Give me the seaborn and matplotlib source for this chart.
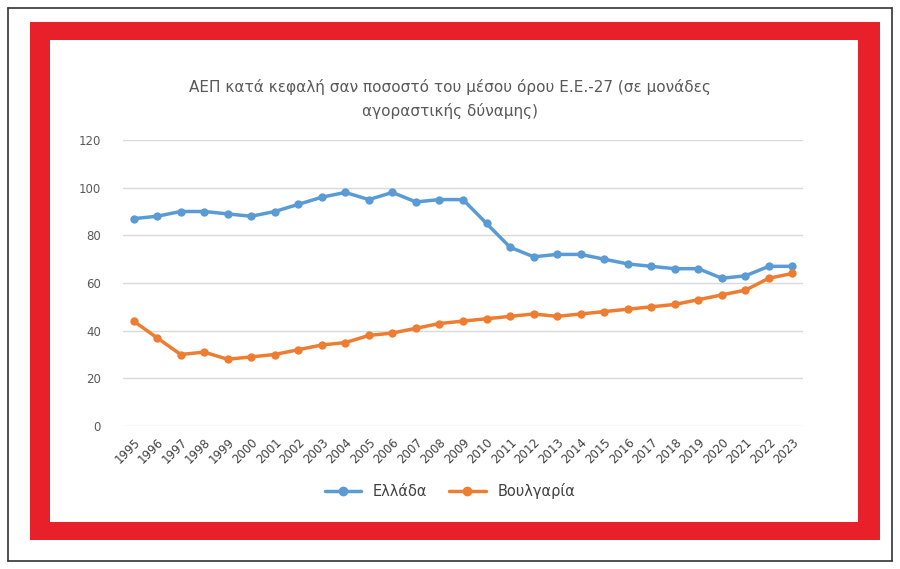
import matplotlib
matplotlib.use('Agg')
import matplotlib.pyplot as plt
import matplotlib.patches as mpatches
import seaborn as sns
import pandas as pd

years = list(range(1995, 2024))
greece = [87, 88, 90, 90, 89, 88, 90, 93, 96, 98, 95, 98, 94, 95, 95, 85, 75, 71,
          72, 72, 70, 68, 67, 66, 66, 62, 63, 67, 67]
bulgaria = [44, 37, 30, 31, 28, 29, 30, 32, 34, 35, 38, 39, 41, 43, 44, 45, 46, 47,
            46, 47, 48, 49, 50, 51, 53, 55, 57, 62, 64]
series_names = ['Ελλάδα', 'Βουλγαρία']
colors = ['#5B9BD5', '#ED7D31']

sns.set_theme(style='white')
plt.rcParams['font.family'] = ['DejaVu Sans']

W, H = 900, 569
fig = plt.figure(figsize=(9, 5.69), dpi=100)

def box(x0, y0, x1, y1, **kw):
    # pixel coords from top-left
    fig.patches.append(mpatches.Rectangle((x0 / W, 1 - y1 / H), (x1 - x0) / W, (y1 - y0) / H,
                                          transform=fig.transFigure, figure=fig, zorder=-5, **kw))

box(8, 8, 892, 561, facecolor='white', edgecolor='#333333', lw=1.2)
box(30, 22, 880, 540, facecolor='#E8202A', edgecolor='none')
box(50, 40, 858, 522, facecolor='white', edgecolor='none')
for (xa, ya, xb, yb) in [(8, 8, 30, 22), (892, 8, 880, 22), (8, 561, 30, 540), (892, 561, 880, 540)]:
    fig.lines.append(plt.Line2D([xa / W, xb / W], [1 - ya / H, 1 - yb / H],
                                transform=fig.transFigure, color='#333333', lw=1, zorder=-5))

df = pd.DataFrame({'year': [str(y) for y in years] * 2,
                   'value': greece + bulgaria,
                   'country': [series_names[0]] * len(years) + [series_names[1]] * len(years)})

ax = fig.add_axes([123 / W, 1 - 426 / H, 680 / W, 286 / H])
ax.set_facecolor('none')
sns.lineplot(data=df, x='year', y='value', hue='country', palette=colors, marker='o',
             markersize=6, markeredgewidth=0, linewidth=2.5, sort=False, ax=ax, legend=False)
ax.set_xlim(-0.45, len(years) - 0.55)
ax.set_ylim(0, 120)
ax.set_yticks(range(0, 121, 20))
ax.grid(axis='y', color='#D9D9D9', lw=1)
ax.set_axisbelow(True)
for s in ax.spines.values():
    s.set_visible(False)
ax.set_xlabel('')
ax.set_ylabel('')
ax.tick_params(axis='y', labelsize=8.5, colors='#595959', pad=10)
ax.tick_params(axis='x', labelsize=8.5, colors='#404040', rotation=45, pad=1)
for lbl in ax.get_xticklabels():
    lbl.set_ha('right')
    lbl.set_rotation_mode('anchor')

fig.text(0.5, 1 - 99 / H, 'ΑΕΠ κατά κεφαλή σαν ποσοστό του μέσου όρου Ε.Ε.-27 (σε μονάδες\nαγοραστικής δύναμης)',
         ha='center', va='center', fontsize=11, color='#595959', linespacing=1.6)

handles = [plt.Line2D([], [], color=c, marker='o', lw=2.5, markersize=6) for c in colors]
fig.legend(handles, series_names, loc='center', bbox_to_anchor=(0.5, 1 - 491 / H), ncol=2,
           frameon=False, fontsize=10.5, labelcolor='#404040', handlelength=2.5, columnspacing=1.5)

fig.savefig('out.png', dpi=100)
